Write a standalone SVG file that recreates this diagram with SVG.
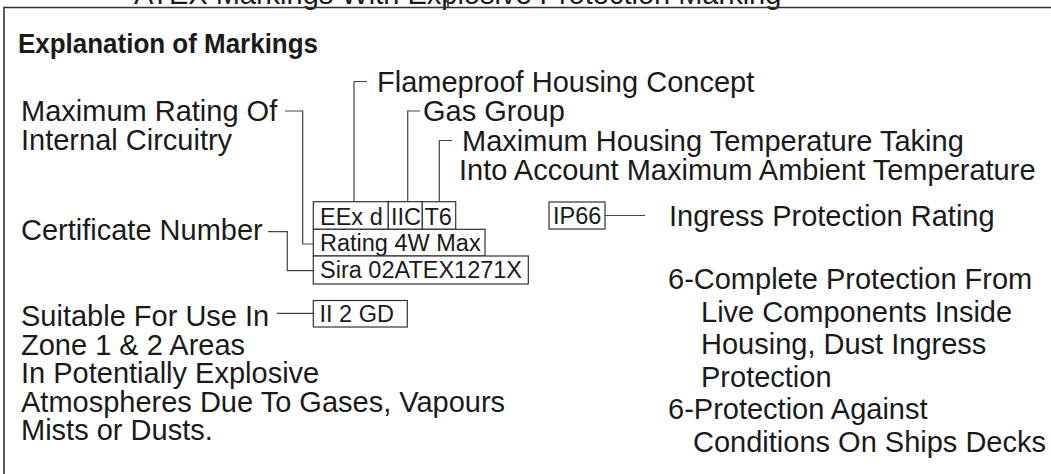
<svg xmlns="http://www.w3.org/2000/svg" width="1051" height="474" viewBox="0 0 1051 474">
<style>
.t{font-family:"Liberation Sans",Arial,sans-serif;font-size:29px;fill:#1a1a1a}
.b{font-family:"Liberation Sans",Arial,sans-serif;font-size:28px;font-weight:bold;fill:#1a1a1a}
.s{font-family:"Liberation Sans",Arial,sans-serif;font-size:23.5px;fill:#1a1a1a}
.box{fill:#fff;stroke:#333;stroke-width:1.2}
.ln{fill:none;stroke:#444;stroke-width:1.2}
.fr{fill:none;stroke:#333;stroke-width:1.6}
</style>
<rect width="1051" height="474" fill="#fff"/>
<g id="frame">
<text class="t" x="134" y="4">ATEX Markings With Explosive Protection Marking</text>
<path class="fr" d="M4,474 V7.5 H1051 M448,0 V7.5"/>
<text class="b" x="18" y="53" textLength="300" lengthAdjust="spacingAndGlyphs">Explanation of Markings</text>
</g>
<g id="connectors">
<path class="ln" d="M354,201.7 V81.5 H367"/>
<path class="ln" d="M407.7,201.7 V111 H420"/>
<path class="ln" d="M439.3,201.7 V140.5 H452"/>
<path class="ln" d="M285,111 H302.7 V244 H313.3"/>
<path class="ln" d="M268,231.7 H287.3 V270.7 H313.3"/>
<path class="ln" d="M276.7,313.3 H313.3"/>
<path class="ln" d="M605,215.5 H645"/>
</g>
<g id="labels-left">
<text class="t" x="21" y="120.5">Maximum Rating Of</text>
<text class="t" x="21" y="149.5">Internal Circuitry</text>
<text class="t" x="21" y="240">Certificate Number</text>
<text class="t" x="21" y="326">Suitable For Use In</text>
<text class="t" x="21" y="354.5">Zone 1 &amp; 2 Areas</text>
<text class="t" x="21" y="383">In Potentially Explosive</text>
<text class="t" x="21" y="411.5">Atmospheres Due To Gases, Vapours</text>
<text class="t" x="21" y="440">Mists or Dusts.</text>
</g>
<g id="labels-top">
<text class="t" x="377" y="91.5">Flameproof Housing Concept</text>
<text class="t" x="423" y="121">Gas Group</text>
<text class="t" x="462" y="150.5">Maximum Housing Temperature Taking</text>
<text class="t" x="459" y="180">Into Account Maximum Ambient Temperature</text>
</g>
<g id="node-eexd"><rect class="box" x="313.3" y="201.7" width="75" height="27.6"/><text class="s" x="320" y="225">EEx d</text></g>
<g id="node-iic"><rect class="box" x="388.3" y="201.7" width="34" height="27.6"/><text class="s" x="391" y="225">IIC</text></g>
<g id="node-t6"><rect class="box" x="422.3" y="201.7" width="33.4" height="27.6"/><text class="s" x="424.5" y="225">T6</text></g>
<g id="node-rating"><rect class="box" x="313.3" y="229.3" width="171.7" height="26.7"/><text class="s" x="320" y="251">Rating 4W Max</text></g>
<g id="node-cert"><rect class="box" x="313.3" y="256" width="215" height="28"/><text class="s" x="320" y="278.3">Sira 02ATEX1271X</text></g>
<g id="node-group"><rect class="box" x="313.3" y="300.5" width="94" height="26.5"/><text class="s" x="319.5" y="322">II 2 GD</text></g>
<g id="node-ip"><rect class="box" x="549" y="202" width="56" height="27"/><text class="s" x="553" y="224">IP66</text></g>
<g id="labels-right">
<text class="t" x="669" y="226">Ingress Protection Rating</text>
<text class="t" x="668" y="289">6-Complete Protection From</text>
<text class="t" x="701" y="321.5">Live Components Inside</text>
<text class="t" x="701" y="354">Housing, Dust Ingress</text>
<text class="t" x="701" y="386.5">Protection</text>
<text class="t" x="668" y="419">6-Protection Against</text>
<text class="t" x="693" y="451.5">Conditions On Ships Decks</text>
</g>
</svg>
